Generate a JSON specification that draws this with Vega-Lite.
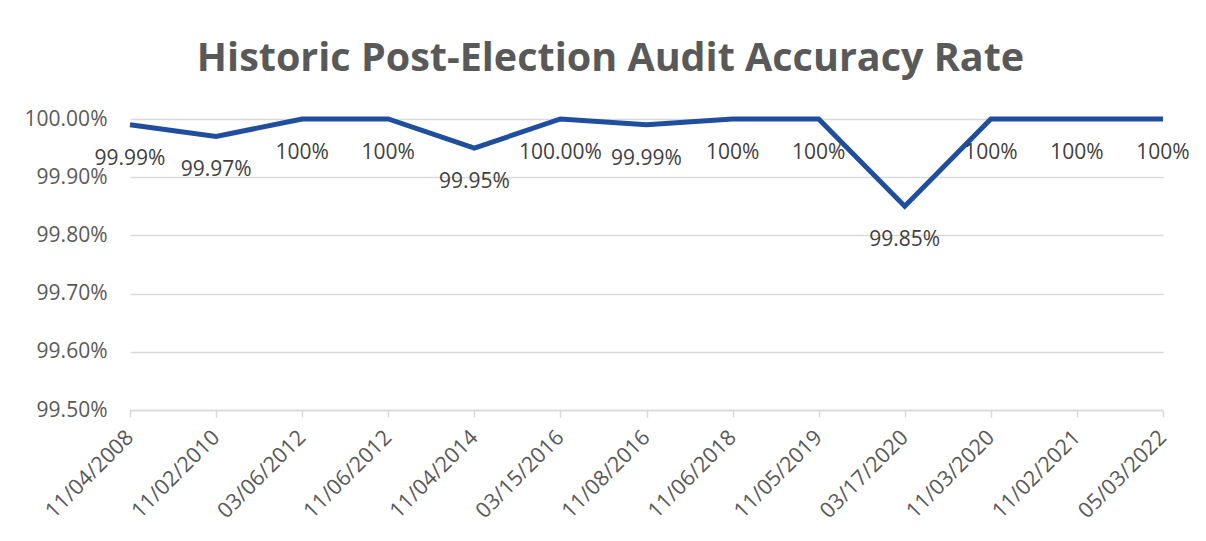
{
  "$schema": "https://vega.github.io/schema/vega-lite/v6.json",
  "width": 1033,
  "height": 291,
  "autosize": {"type": "none"},
  "padding": {"left": 130, "top": 119, "right": 43, "bottom": 131},
  "background": "white",
  "title": {
    "text": "Historic Post-Election Audit Accuracy Rate",
    "font": "Open Sans",
    "fontSize": 39.5,
    "fontWeight": "bold",
    "color": "#595959",
    "anchor": "middle",
    "frame": "group",
    "dx": -36,
    "baseline": "alphabetic",
    "offset": -2
  },
  "data": {
    "values": [
      {"date": "11/04/2008", "rate": 99.99, "label": "99.99%"},
      {"date": "11/02/2010", "rate": 99.97, "label": "99.97%"},
      {"date": "03/06/2012", "rate": 100, "label": "100%"},
      {"date": "11/06/2012", "rate": 100, "label": "100%"},
      {"date": "11/04/2014", "rate": 99.95, "label": "99.95%"},
      {"date": "03/15/2016", "rate": 100, "label": "100.00%"},
      {"date": "11/08/2016", "rate": 99.99, "label": "99.99%"},
      {"date": "11/06/2018", "rate": 100, "label": "100%"},
      {"date": "11/05/2019", "rate": 100, "label": "100%"},
      {"date": "03/17/2020", "rate": 99.85, "label": "99.85%"},
      {"date": "11/03/2020", "rate": 100, "label": "100%"},
      {"date": "11/02/2021", "rate": 100, "label": "100%"},
      {"date": "05/03/2022", "rate": 100, "label": "100%"}
    ]
  },
  "encoding": {
    "x": {
      "field": "date",
      "type": "ordinal",
      "sort": null,
      "scale": {"type": "point", "padding": 0},
      "axis": {
        "title": null,
        "labelAngle": -45,
        "labelAlign": "right",
        "labelBaseline": "middle",
        "labelFont": "Open Sans",
        "labelFontSize": 21.5,
        "labelColor": "#595959",
        "labelPadding": 17,
        "tickColor": "#d9d9d9",
        "tickSize": 7,
        "tickWidth": 1.5,
        "domainColor": "#d9d9d9",
        "domainWidth": 1.5,
        "grid": false
      }
    },
    "y": {
      "field": "rate",
      "type": "quantitative",
      "scale": {"domain": [99.5, 100], "nice": false, "zero": false},
      "axis": {
        "title": null,
        "values": [99.5, 99.6, 99.7, 99.8, 99.9, 100],
        "labelExpr": "format(datum.value, '.2f') + '%'",
        "labelFont": "Open Sans",
        "labelFontSize": 21,
        "labelColor": "#595959",
        "labelPadding": 23,
        "ticks": false,
        "domain": false,
        "grid": true,
        "gridColor": "#d9d9d9",
        "gridWidth": 1.5
      }
    }
  },
  "layer": [
    {
      "mark": {"type": "line", "color": "#1f4e9f", "strokeWidth": 5, "strokeJoin": "miter"}
    },
    {
      "mark": {"type": "text", "font": "Open Sans", "fontSize": 21, "color": "#404040", "baseline": "middle", "dy": 34},
      "encoding": {"text": {"field": "label"}}
    }
  ],
  "config": {"view": {"stroke": null}}
}
